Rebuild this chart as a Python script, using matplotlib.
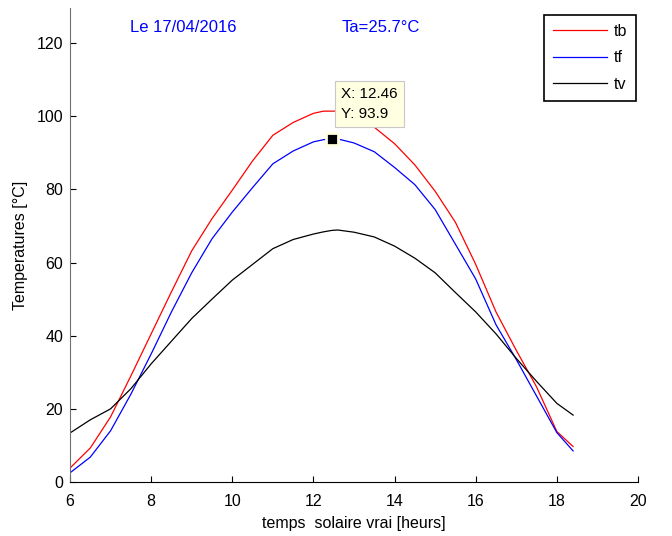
import numpy as np
import matplotlib
matplotlib.use('Agg')
import matplotlib.pyplot as plt

plt.rcParams['font.family'] = ['Liberation Sans', 'DejaVu Sans']

# heures solaires
hours = [6, 6.5, 7, 7.5, 8, 8.5, 9, 9.5, 10, 10.5, 11, 11.5, 12, 12.25, 12.46,
         12.6, 13, 13.5, 14, 14.5, 15, 15.5, 16, 16.5, 17, 17.5, 18, 18.4]

tb = [3.8, 9.3, 17.8, 29.0, 40.5, 52.0, 63.2, 72.0, 79.8, 87.8, 94.8, 98.3, 100.8, 101.4, 101.4,
      101.4, 100.0, 97.0, 92.5, 86.7, 79.5, 71.0, 59.5, 46.5, 36.0, 26.0, 13.8, 9.7]
tf = [2.5, 6.8, 14.0, 24.0, 35.0, 46.5, 57.2, 66.5, 73.8, 80.5, 87.0, 90.5, 93.0, 93.6, 93.9,
      93.8, 92.7, 90.3, 86.0, 81.3, 74.5, 65.0, 55.5, 43.0, 33.5, 23.5, 13.5, 8.5]
tv = [13.4, 17.0, 20.0, 25.5, 32.3, 38.5, 44.7, 50.0, 55.2, 59.5, 63.8, 66.3, 67.8, 68.4, 68.8,
      68.9, 68.3, 67.0, 64.5, 61.2, 57.2, 51.8, 46.5, 40.5, 33.8, 27.5, 21.5, 18.3]

tip_x = 12.46
tip_y = 93.9

fig = plt.figure(figsize=(6.72, 5.36), dpi=100)
ax = fig.add_axes([70 / 672, 54 / 536, 568 / 672, 474 / 536])

ax.plot(hours, tb, color='red', lw=0.9, label='tb')
ax.plot(hours, tf, color='blue', lw=0.9, label='tf')
ax.plot(hours, tv, color='black', lw=0.9, label='tv')

ax.set_xlim(6, 20)
ax.set_ylim(0, 129.6)
ax.set_xticks(np.arange(6, 21, 2))
ax.set_yticks(np.arange(0, 121, 20))
ax.tick_params(direction='in', length=4, labelsize=11.5, width=0.8)
ax.tick_params(axis='x', pad=9)
ax.tick_params(axis='y', pad=5)
for s in ['top', 'right']:
    ax.spines[s].set_visible(False)
ax.spines['left'].set_color('#707070')

ax.set_xlabel('temps  solaire vrai [heurs]', fontsize=11.5, labelpad=5)
ax.set_ylabel('Temperatures [°C]', fontsize=11.5, labelpad=6)

ax.text(8.79, 124.3, 'Le 17/04/2016', color='blue', fontsize=12, ha='center', va='center')
ax.text(13.67, 124.3, 'Ta=25.7°C', color='blue', fontsize=12, ha='center', va='center')

# datatip
ax.plot([tip_x], [tip_y], marker='s', ms=8, color='black', mec='#ffffe1', mew=2, zorder=5)
ax.text(12.68, 103.3, 'X: %.2f\nY: %.1f' % (tip_x, tip_y), fontsize=11, va='center', ha='left',
        linespacing=1.55,
        bbox=dict(boxstyle='square,pad=0.4', fc='#ffffe1', ec='#c8c8c8', lw=0.8), zorder=6)

leg = ax.legend(loc='upper right', bbox_to_anchor=(636 / 672, 1 - 15 / 536),
                bbox_transform=fig.transFigure, fontsize=11.5, fancybox=False,
                edgecolor='black', framealpha=1, handlelength=3.4, handletextpad=0.4,
                labelspacing=0.72, borderpad=0.55, borderaxespad=0)
leg.get_frame().set_linewidth(1.2)

fig.savefig('out.png', dpi=100)
